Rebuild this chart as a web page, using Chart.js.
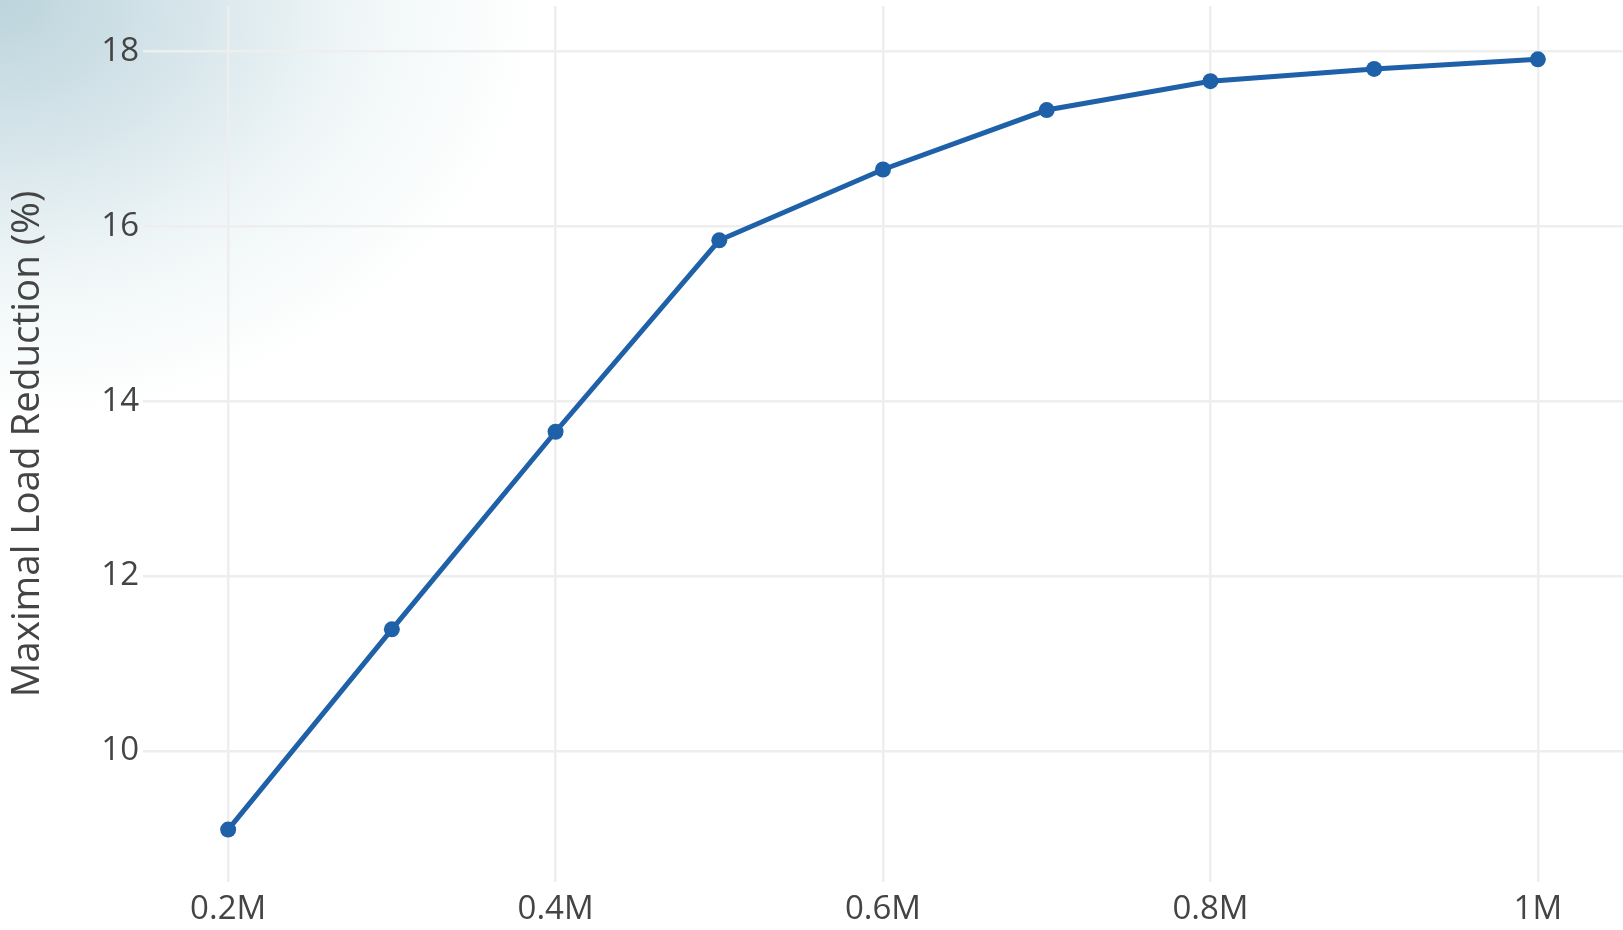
<!DOCTYPE html>
<html>
<head>
<meta charset="utf-8">
<script src="https://cdn.jsdelivr.net/npm/chart.js@4/dist/chart.umd.min.js"></script>
<style>
  html, body { margin: 0; padding: 0; }
  body {
    width: 1623px; height: 930px; overflow: hidden;
    background: radial-gradient(ellipse 540px 420px at 0 0, #bcd4dc 0%, #d9e7ec 38%, #f1f7f8 68%, #ffffff 100%);
  }
  #wrap { position: relative; width: 1623px; height: 930px; }
</style>
</head>
<body>
<div id="wrap"><canvas id="chart"></canvas></div>
<script>
// data in millions
const xValues = [0.2, 0.3, 0.4, 0.5, 0.6, 0.7, 0.8, 0.9, 1.0];
const reduction = [9.10, 11.39, 13.65, 15.84, 16.65, 17.33, 17.66, 17.80, 17.91];
const xTicks = [0.2, 0.4, 0.6, 0.8, 1.0];
const xTickLabels = ['0.2M', '0.4M', '0.6M', '0.8M', '1M'];
const yTicks = [10, 12, 14, 16, 18];

const lineColor = '#1f61a8';
const fontFamily = '"Open Sans", "Noto Sans", sans-serif';

const chartCanvas = document.getElementById('chart');

// keep the plot area where the reference has it
function noPadding(axis) {
  axis.paddingLeft = 0;
  axis.paddingRight = 0;
  axis.paddingTop = 0;
  axis.paddingBottom = 0;
}

new Chart(chartCanvas, {
  type: 'line',
  data: {
    datasets: [{
      label: 'Maximal Load Reduction',
      data: xValues.map((x, i) => ({ x: x, y: reduction[i] })),
      borderColor: lineColor,
      backgroundColor: lineColor,
      borderWidth: 5,
      pointRadius: 8,
      pointHoverRadius: 8,
      pointBorderWidth: 0,
      tension: 0,
      clip: false
    }]
  },
  options: {
    responsive: true,
    maintainAspectRatio: false,
    animation: false,
    layout: { autoPadding: false, padding: { top: 6, left: 0, right: 0, bottom: 0 } },
    plugins: {
      legend: { display: false },
      tooltip: { enabled: false }
    },
    scales: {
      x: {
        type: 'linear',
        min: 0.148,
        max: 1.052,
        afterBuildTicks: (axis) => { axis.ticks = xTicks.map(v => ({ value: v })); },
        afterFit: (axis) => { axis.height = 48; noPadding(axis); },
        grid: { color: '#eeeeee', lineWidth: 2.5, drawTicks: false },
        border: { display: false },
        ticks: {
          padding: 8,
          color: '#444',
          font: { family: fontFamily, size: 33 },
          maxRotation: 0,
          callback: (v) => xTickLabels[xTicks.indexOf(v)]
        }
      },
      y: {
        min: 8.5,
        max: 18.52,
        afterBuildTicks: (axis) => { axis.ticks = yTicks.map(v => ({ value: v })); },
        afterFit: (axis) => { axis.width = 143; noPadding(axis); },
        grid: { color: '#eeeeee', lineWidth: 2.5, drawTicks: false },
        border: { display: false },
        ticks: {
          padding: 4,
          color: '#444',
          font: { family: fontFamily, size: 33 }
        },
        title: {
          display: true,
          text: 'Maximal Load Reduction (%)',
          color: '#444',
          font: { family: fontFamily, size: 38.5 },
          padding: { top: 5, bottom: 0 }
        }
      }
    }
  }
});
</script>
</body>
</html>
